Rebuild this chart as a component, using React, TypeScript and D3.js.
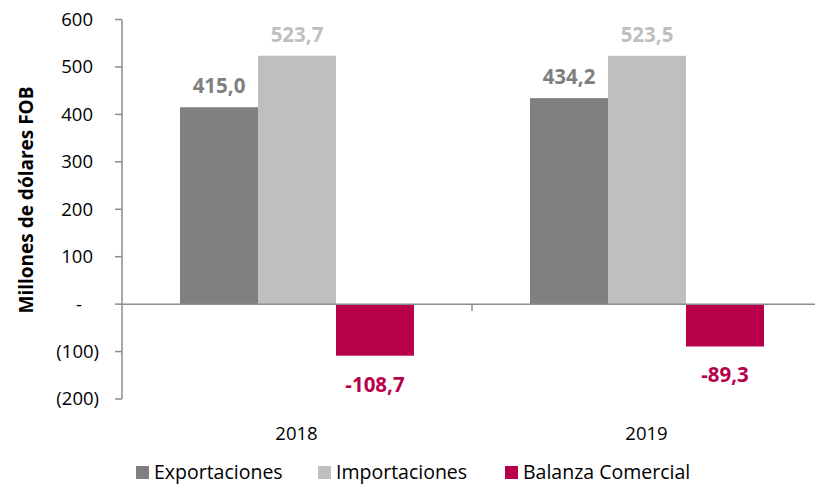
import * as d3 from 'd3';

const years = ['2018', '2019'];
const seriesNames = ['Exportaciones', 'Importaciones', 'Balanza Comercial'];
const exportaciones = [415.0, 434.2];
const importaciones = [523.7, 523.5];
const balanza = [-108.7, -89.3];
const yTicks = [-200, -100, 0, 100, 200, 300, 400, 500, 600];

const colors = ['#808080', '#BFBFBF', '#B8004A'];
const font = '"Open Sans", "Segoe UI", sans-serif';

const fmt = (v: number) => v.toFixed(1).replace('.', ',');
const tickFmt = (v: number) => (v === 0 ? '-' : v < 0 ? `(${-v})` : `${v}`);

export default function App() {
  const width = 815;
  const height = 485;
  const left = 122;
  const right = 822;
  const top = 19.5;
  const bottom = 399;

  const values = [exportaciones, importaciones, balanza];

  const y = d3.scaleLinear().domain([-200, 600]).range([bottom, top]);
  const x0 = d3.scaleBand<string>().domain(years).range([left, right]).paddingInner(0).paddingOuter(0);
  const groupPad = 58;
  const x1 = d3
    .scaleBand<string>()
    .domain(seriesNames)
    .range([groupPad, x0.bandwidth() - groupPad]);

  const zeroY = y(0);
  // tick label right edge: Excel style keeps room for ")"
  const tickX = (t: number) => (t < 0 ? 99 : t === 0 ? 82 : 93);

  return (
    <svg width={width} height={height} style={{ position: 'absolute', left: 0, top: 0 }} fontFamily={font}>
      {/* y axis */}
      <line x1={left} x2={left} y1={top} y2={bottom} stroke="#8c8c8c" strokeWidth={1.5} />
      {yTicks.map((t) => (
        <g key={t}>
          <line x1={left - 7} x2={left} y1={y(t)} y2={y(t)} stroke="#8c8c8c" strokeWidth={1.5} />
          <text x={tickX(t)} y={y(t)} dy="0.35em" textAnchor="end" fontSize={18.5} fill="#000">
            {tickFmt(t)}
          </text>
        </g>
      ))}
      <text
        transform={`translate(33,200) rotate(-90)`}
        textAnchor="middle"
        fontSize={19}
        fontWeight="bold"
        fill="#000"
      >
        Millones de dólares FOB
      </text>

      {/* bars */}
      {years.map((yr, i) => (
        <g key={yr} transform={`translate(${x0(yr)},0)`}>
          {seriesNames.map((s, j) => {
            const v = values[j][i];
            const bx = x1(s)!;
            const bw = x1.bandwidth();
            const y0 = Math.min(y(v), zeroY);
            const h = Math.abs(y(v) - zeroY);
            const ly = v >= 0 ? y(v) - 14 : y(v) + 36;
            return (
              <g key={s}>
                <rect x={bx} y={y0} width={bw} height={h} fill={colors[j]} />
                <text
                  x={bx + bw / 2}
                  y={ly}
                  textAnchor="middle"
                  fontSize={20.5}
                  fontWeight="bold"
                  fill={colors[j]}
                >
                  {fmt(v)}
                </text>
              </g>
            );
          })}
          <text x={x0.bandwidth() / 2 - 0.5} y={440} textAnchor="middle" fontSize={18.5} fill="#000">
            {yr}
          </text>
        </g>
      ))}

      {/* zero line and category ticks */}
      <line x1={left} x2={right} y1={zeroY} y2={zeroY} stroke="#8c8c8c" strokeWidth={1.5} />
      {years.slice(1).map((yr) => (
        <line key={yr} x1={x0(yr)} x2={x0(yr)} y1={zeroY} y2={zeroY + 7} stroke="#8c8c8c" strokeWidth={1.5} />
      ))}

      {/* legend */}
      {seriesNames.map((s, j) => {
        const lx = [136, 318, 505][j];
        return (
          <g key={s}>
            <rect x={lx} y={466} width={13} height={13} fill={colors[j]} />
            <text x={lx + 18} y={479} fontSize={19.5} fill="#000">
              {s}
            </text>
          </g>
        );
      })}
    </svg>
  );
}
